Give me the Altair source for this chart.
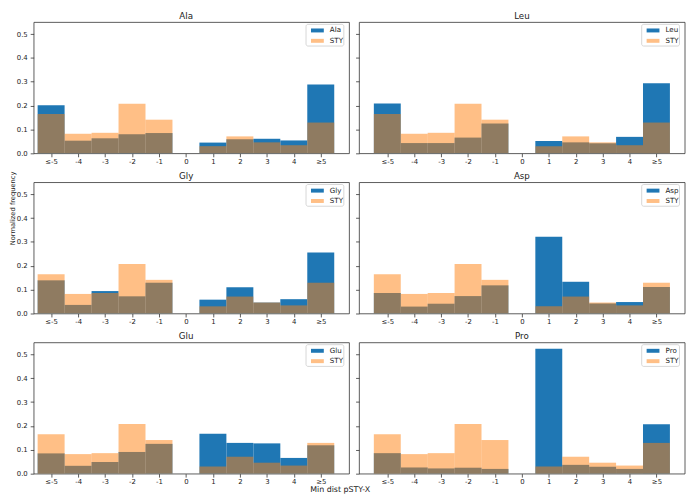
import altair as alt
import pandas as pd

categories = ["≤-5", "-4", "-3", "-2", "-1", "0", "1", "2", "3", "4", "≥5"]
bin_centers = [-5, -4, -3, -2, -1, 0, 1, 2, 3, 4, 5]
y_ticks = [0.0, 0.1, 0.2, 0.3, 0.4, 0.5]

sty = [0.165, 0.082, 0.086, 0.208, 0.141, 0.0, 0.030, 0.071, 0.046, 0.034, 0.129]
ala = [0.201, 0.053, 0.063, 0.080, 0.085, 0.0, 0.045, 0.059, 0.061, 0.054, 0.289]
leu = [0.209, 0.043, 0.043, 0.066, 0.125, 0.0, 0.052, 0.046, 0.042, 0.069, 0.294]
gly = [0.139, 0.036, 0.094, 0.072, 0.129, 0.0, 0.058, 0.110, 0.046, 0.060, 0.256]
asp = [0.086, 0.029, 0.041, 0.073, 0.118, 0.0, 0.322, 0.133, 0.042, 0.048, 0.111]
glu = [0.085, 0.033, 0.049, 0.091, 0.125, 0.0, 0.167, 0.129, 0.127, 0.066, 0.119]
pro = [0.086, 0.026, 0.022, 0.025, 0.020, 0.0, 0.524, 0.037, 0.029, 0.020, 0.207]

panels = [("Ala", ala), ("Leu", leu), ("Gly", gly), ("Asp", asp), ("Glu", glu), ("Pro", pro)]

BLUE = "#1f77b4"
ORANGE = "#ff7f0e"
FONT = "DejaVu Sans"
TXT = "#222222"

L1 = 34.0             # expected left edge of left column plot area (screen px)
W_LEFT = 353.6 - L1
W_RIGHT = 330
H = 133.0
X_LEFT_MIN = -5 - (51.7 - L1) / 27.33

label_expr = "[" + ",".join("'" + c + "'" for c in categories) + "][datum.value + 5]"


def panel(name, vals, col, row):
    width = W_LEFT if col == 0 else W_RIGHT
    xmin = X_LEFT_MIN if col == 0 else -6.05
    df = pd.DataFrame({"x": bin_centers, "aa": vals, "sty": sty})
    base = alt.Chart(df).transform_calculate(x0="datum.x - 0.5", x1="datum.x + 0.5")

    xaxis_kwargs = dict(values=bin_centers, labelExpr=label_expr, title=None,
                        labelOverlap=False, labelFlush=False, labelPadding=0.8)
    if name == "Glu":
        xaxis_kwargs.update(title="Min dist pSTY-X", titleX=344 - L1, titleY=18.3,
                            titleBaseline="alphabetic", titleAlign="center",
                            titleFontSize=8.0)
    yaxis_kwargs = dict(values=y_ticks, format=".1f", title=None, labelOverlap=False,
                        labelPadding=3)
    if col == 1:
        yaxis_kwargs.update(labels=False)
    if name == "Gly":
        yaxis_kwargs.update(title="Normalized frequency", titlePadding=1,
                            titleY=204 - 178, titleFontSize=6.8)

    xscale = alt.Scale(domain=[xmin, 6.05], nice=False, zero=False)
    yscale = alt.Scale(domain=[0, 0.5502], nice=False)
    xaxis = alt.Axis(**xaxis_kwargs)
    yaxis = alt.Axis(**yaxis_kwargs)

    blue = base.mark_rect(color=BLUE).encode(
        x=alt.X("x0:Q", scale=xscale, axis=xaxis),
        x2="x1:Q",
        y=alt.Y("aa:Q", scale=yscale, axis=yaxis),
        y2=alt.datum(0),
    )
    orange = base.mark_rect(color=ORANGE, opacity=0.5).encode(
        x=alt.X("x0:Q", scale=xscale, axis=xaxis), x2="x1:Q",
        y=alt.Y("sty:Q", scale=yscale, axis=yaxis), y2=alt.datum(0)
    )

    one = alt.Chart(pd.DataFrame({"label": [name]}))
    title_x = (188.5 - L1) if col == 0 else width / 2
    title = one.mark_text(align="center", baseline="alphabetic", font=FONT,
                          fontSize=8.8, color=TXT).encode(
        x=alt.value(title_x), y=alt.value(-3.6), text="label:N")
    box = one.mark_rect(fill="white", fillOpacity=0.8, stroke="#cccccc",
                        strokeWidth=0.8, cornerRadius=2).encode(
        x=alt.value(width - 43.6), x2=alt.value(width - 5.3),
        y=alt.value(2.3), y2=alt.value(24.3))
    p1 = one.mark_rect(color=BLUE).encode(
        x=alt.value(width - 38.6), x2=alt.value(width - 25.6),
        y=alt.value(6.5), y2=alt.value(10.5))
    p2 = one.mark_rect(color=ORANGE, opacity=0.5).encode(
        x=alt.value(width - 38.6), x2=alt.value(width - 25.6),
        y=alt.value(17.0), y2=alt.value(21.0))
    t1 = one.mark_text(align="left", baseline="middle", font=FONT, fontSize=7.2,
                       color=TXT).encode(
        x=alt.value(width - 19.5), y=alt.value(8.5), text="label:N")
    t2 = one.mark_text(align="left", baseline="middle", font=FONT, fontSize=7.2,
                       color=TXT).encode(
        x=alt.value(width - 19.5), y=alt.value(19.0), text=alt.value("STY"))

    return alt.layer(blue, orange, title, box, p1, p2, t1, t2).properties(
        width=width, height=H)


charts = [panel(n, v, i % 2, i // 2) for i, (n, v) in enumerate(panels)]

chart = alt.concat(*charts, columns=2, spacing={"row": 29.3, "column": 9.7},
                   bounds="flush").properties(padding=0).configure_view(
    stroke="#333333", strokeWidth=0.8
).configure_axis(
    domain=False, grid=False, tickColor="#333333", tickWidth=0.8, tickSize=3.5,
    labelFont=FONT, labelFontSize=7.0, labelColor=TXT, labelPadding=2.5,
    labelOverlap=False, labelFlush=False,
    titleFont=FONT, titleFontSize=7.5, titleFontWeight="normal", titleColor=TXT,
)

chart.save("out.html", embed_options={"renderer": "svg", "actions": False})
